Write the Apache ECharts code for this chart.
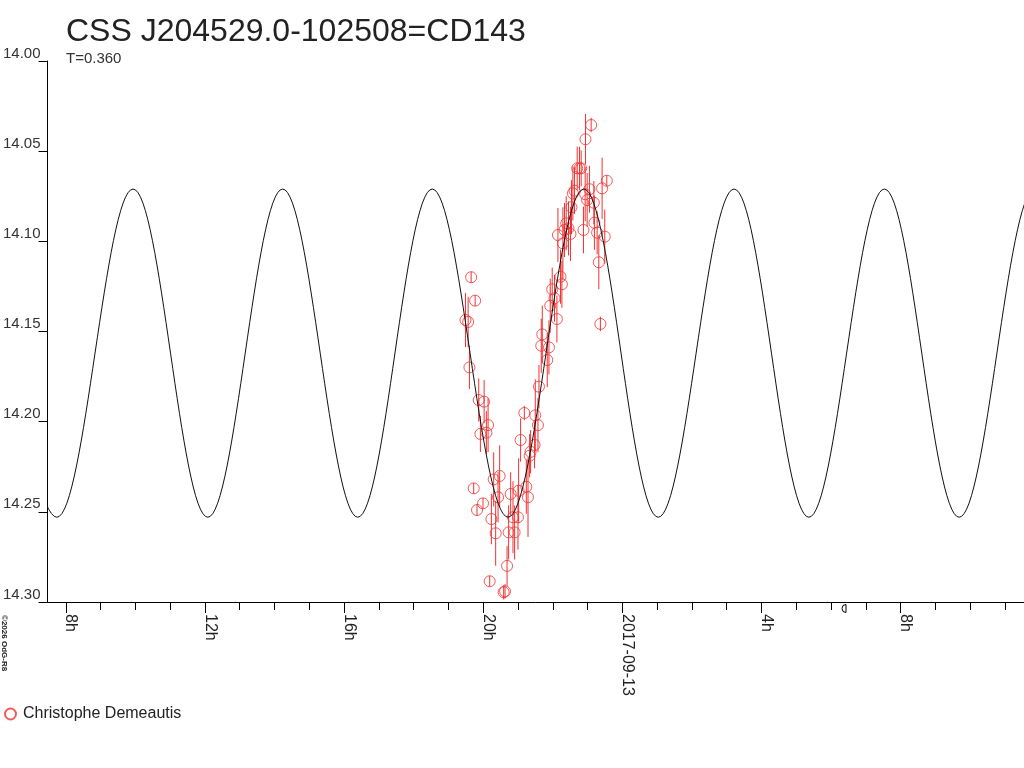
<!DOCTYPE html>
<html>
<head>
<meta charset="utf-8">
<title>CSS J204529.0-102508=CD143</title>
<script src="https://cdn.jsdelivr.net/npm/echarts@6/dist/echarts.min.js"></script>
<style>
html, body { margin: 0; padding: 0; background: #fff; }
#chart { width: 1024px; height: 768px; }
</style>
</head>
<body>
<div id="chart"></div>
<script>
// times are hours since 2017-09-12 00:00 UT, magnitudes in V
var obsHours = [19.490, 19.567, 19.604, 19.653, 19.727, 19.768, 19.822, 19.871, 19.919, 19.994,
    20.026, 20.091, 20.140, 20.186, 20.235, 20.301, 20.358, 20.427, 20.473, 20.588,
    20.628, 20.686, 20.731, 20.789, 20.856, 20.903, 21.000, 21.018, 21.075, 21.182,
    21.239, 21.288, 21.334, 21.362, 21.477, 21.497, 21.574, 21.603, 21.669, 21.698,
    21.841, 21.890, 21.927, 21.984, 22.050, 22.119, 22.148, 22.222, 22.262, 22.291,
    22.337, 22.386, 22.452, 22.509, 22.538, 22.578, 22.624, 22.702, 22.768, 22.816,
    22.882, 22.931, 22.940, 22.988, 23.054, 23.103, 23.180, 23.197, 23.275, 23.323,
    23.369, 23.418, 23.495, 23.553];
var obsMag = [14.1436, 14.1447, 14.1699, 14.1199, 14.2370, 14.1329, 14.2490, 14.1880, 14.2068, 14.2453,
    14.1889, 14.2061, 14.2019, 14.2885, 14.2540, 14.2320, 14.2619, 14.2419, 14.2301, 14.2946,
    14.2941, 14.2800, 14.2614, 14.2401, 14.2530, 14.2614, 14.2530, 14.2383, 14.2102, 14.1952,
    14.2361, 14.2419, 14.2189, 14.2167, 14.2129, 14.1965, 14.2019, 14.1806, 14.1579, 14.1516,
    14.1658, 14.1588, 14.1357, 14.1266, 14.1316, 14.1431, 14.0965, 14.1196, 14.1238, 14.1011,
    14.0937, 14.0900, 14.0928, 14.0959, 14.0811, 14.0734, 14.0719, 14.0595, 14.0595, 14.0595,
    14.0937, 14.0739, 14.0434, 14.0771, 14.0711, 14.0355, 14.0786, 14.0897, 14.0952, 14.1116,
    14.1458, 14.0706, 14.0974, 14.0664];
var obsErr = [0.015, 0.014, 0.012, 0.003, 0.003, 0.003, 0.003, 0.012, 0.010, 0.003,
    0.012, 0.012, 0.015, 0.003, 0.014, 0.015, 0.018, 0.014, 0.017, 0.004,
    0.004, 0.011, 0.015, 0.012, 0.020, 0.015, 0.018, 0.018, 0.012, 0.004,
    0.015, 0.022, 0.012, 0.012, 0.013, 0.020, 0.015, 0.012, 0.015, 0.016,
    0.015, 0.015, 0.015, 0.012, 0.013, 0.013, 0.015, 0.015, 0.013, 0.020,
    0.015, 0.015, 0.015, 0.015, 0.015, 0.015, 0.013, 0.012, 0.012, 0.010,
    0.013, 0.015, 0.014, 0.015, 0.013, 0.004, 0.012, 0.015, 0.012, 0.015,
    0.004, 0.017, 0.015, 0.003];

// extrema of the fitted light curve (T=0.360)
var fitHours = [5.550, 7.742, 9.933, 12.083, 14.234, 16.393, 18.535, 20.714,
    22.893, 25.032, 27.211, 29.362, 31.533, 33.683, 35.854, 38.010];
var fitMag = [14.071, 14.253, 14.071, 14.253, 14.071, 14.253, 14.071, 14.253,
    14.071, 14.253, 14.071, 14.253, 14.071, 14.253, 14.071, 14.253];

var majorHours = [8, 12, 16, 20, 24, 28, 32];
var hourTicks = [8, 9, 10, 11, 12, 13, 14, 15, 16, 17, 18, 19, 20, 21, 22, 23,
    24, 25, 26, 27, 28, 29, 30, 31, 32, 33, 34, 35];

var observer = 'Christophe Demeautis';
var red = '#f03232';
var font = '"Liberation Sans", Arial, sans-serif';

var obsData = obsHours.map(function (h, i) { return [h, obsMag[i], obsErr[i]]; });
var fitData = fitHours.map(function (h, i) { return [h, fitMag[i]]; });

var chart = echarts.init(document.getElementById('chart'));

var option = {
    animation: false,
    backgroundColor: '#fff',
    textStyle: { fontFamily: font },
    title: [{
        text: 'CSS J204529.0-102508=CD143',
        left: 61, top: 11,
        textStyle: { fontSize: 32, fontWeight: 'normal', color: '#222', fontFamily: font }
    }, {
        text: 'T=0.360',
        left: 61, top: 46,
        textStyle: { fontSize: 15, fontWeight: 'normal', color: '#333', fontFamily: font }
    }],
    legend: {
        left: -1, top: 701,
        itemWidth: 11, itemHeight: 11,
        selectedMode: false,
        data: [observer],
        textStyle: { fontSize: 16, color: '#222', padding: [0, 0, 0, 2] }
    },
    grid: { left: 45, right: 0, top: 61, bottom: 166 },
    xAxis: [{
        type: 'value',
        min: 7.475, max: 35.547,
        position: 'bottom',
        axisLine: { show: true, lineStyle: { color: '#000', width: 1 } },
        axisTick: { show: true, length: 11, customValues: majorHours, lineStyle: { color: '#000' } },
        axisLabel: {
            show: true, rotate: -90, margin: 12,
            verticalAlign: 'bottom', lineHeight: 10,
            customValues: majorHours,
            fontSize: 16, color: '#222',
            formatter: function (v) { return v === 24 ? '2017-09-13' : (v % 24) + 'h'; }
        },
        splitLine: { show: false }
    }, {
        type: 'value',
        min: 7.475, max: 35.547,
        position: 'bottom',
        axisLine: { show: false },
        axisTick: { show: true, length: 8, customValues: hourTicks, lineStyle: { color: '#000' } },
        axisLabel: { show: false },
        splitLine: { show: false }
    }],
    yAxis: {
        type: 'value',
        inverse: true,
        min: 14.00, max: 14.30, interval: 0.05,
        axisLine: { show: true, lineStyle: { color: '#000', width: 1 } },
        axisTick: { show: true, length: 9, lineStyle: { color: '#000' } },
        axisLabel: {
            margin: 7, fontSize: 15, color: '#333',
            verticalAlign: 'bottom',
            formatter: function (v) { return v.toFixed(2); }
        },
        splitLine: { show: false }
    },
    graphic: [{
        type: 'text',
        x: 0, y: 615,
        rotation: -Math.PI / 2,
        style: { text: '\u00a92026 OdG-R8', font: 'bold 8px ' + font, fill: '#222', align: 'left', verticalAlign: 'bottom' }
    }, {
        // moon phase mark on the time axis
        type: 'arc',
        shape: { cx: 846, cy: 608.5, r: 4, startAngle: Math.PI / 2, endAngle: Math.PI * 1.5, clockwise: true },
        style: { fill: 'none', stroke: '#000', lineWidth: 1 }
    }, {
        type: 'line',
        shape: { x1: 846, y1: 604.5, x2: 846, y2: 612.5 },
        style: { stroke: '#000', lineWidth: 1 }
    }],
    series: [{
        name: 'errors',
        type: 'custom',
        xAxisIndex: 0,
        z: 1,
        silent: true,
        data: obsData,
        encode: { x: 0, y: 1 },
        renderItem: function (params, api) {
            var x = api.value(0), y = api.value(1), e = api.value(2);
            var p1 = api.coord([x, y - e]);
            var p2 = api.coord([x, y + e]);
            return {
                type: 'line',
                shape: { x1: p1[0], y1: p1[1], x2: p2[0], y2: p2[1] },
                style: { stroke: red, lineWidth: 1 }
            };
        }
    }, {
        name: observer,
        type: 'scatter',
        xAxisIndex: 0,
        z: 2,
        symbol: 'circle',
        symbolSize: 11,
        itemStyle: { color: 'rgba(255,255,255,0)', borderColor: red, borderWidth: 1 },
        data: obsData.map(function (d) { return [d[0], d[1]]; })
    }, {
        name: 'fit',
        type: 'line',
        xAxisIndex: 0,
        z: 3,
        smooth: 0.36,
        showSymbol: false,
        clip: true,
        lineStyle: { color: '#111', width: 1 },
        data: fitData
    }]
};

chart.setOption(option);
</script>
</body>
</html>
